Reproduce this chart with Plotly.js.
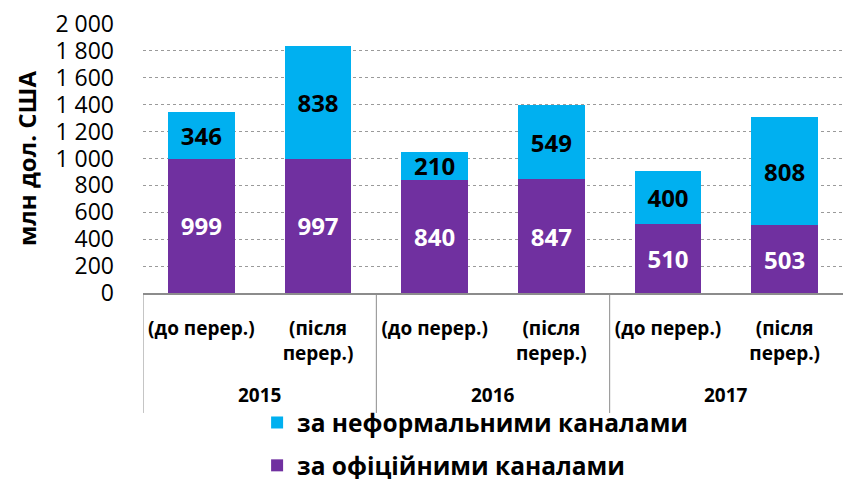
<!DOCTYPE html>
<html>
<head>
<meta charset="utf-8">
<script src="https://cdn.plot.ly/plotly-3.0.1.min.js"></script>
<style>html,body{margin:0;padding:0;background:#fff;}#chart{width:843px;height:479px;}</style>
</head>
<body>
<div id="chart"></div>
<script>
const categories = ["(до перер.)", "(після<br>перер.)", "(до перер.)", "(після<br>перер.)", "(до перер.)", "(після<br>перер.)"];
const years = ["2015", "2016", "2017"];
const officialValues = [999, 997, 840, 847, 510, 503];
const informalValues = [346, 838, 210, 549, 400, 808];
const seriesNames = ["за офіційними каналами", "за неформальними каналами"];
const yTickVals = [0, 200, 400, 600, 800, 1000, 1200, 1400, 1600, 1800, 2000];
const yTickText = ["0", "200", "400", "600", "800", "1 000", "1 200", "1 400", "1 600", "1 800", "2 000"];

const FONT = "'Open Sans', 'Noto Sans', sans-serif";
const xIdx = categories.map((c, i) => i);

const traces = [
  {
    type: "bar", name: seriesNames[0], x: xIdx, y: officialValues,
    marker: {color: "#7030A0"}, legendgroup: "a", legendrank: 2,
    text: officialValues.map(String), textposition: "inside", insidetextanchor: "middle",
    constraintext: "none", cliponaxis: false,
    textfont: {family: FONT, size: 24, color: "#ffffff", weight: 700},
    hoverinfo: "skip"
  },
  {
    type: "bar", name: seriesNames[1], x: xIdx, y: informalValues,
    marker: {color: "#00B0F0"}, legendgroup: "b", legendrank: 1,
    text: informalValues.map(String), textposition: "inside", insidetextanchor: "middle",
    constraintext: "none", cliponaxis: false,
    textfont: {family: FONT, size: 24, color: "#000000", weight: 700},
    hoverinfo: "skip"
  }
];

const axisBottomY = -0.446;
const shapes = [-0.5, 1.5, 3.5].map(v => ({
  type: "line", xref: "x", yref: "paper", x0: v, x1: v, y0: 0, y1: axisBottomY,
  line: {color: "#8c8c8c", width: 1}
}));

const annotations = years.map((yr, i) => ({
  xref: "x", yref: "paper", x: i * 2 + 0.5, y: -0.379, yanchor: "middle",
  text: "<b>" + yr + "</b>", showarrow: false,
  font: {family: FONT, size: 19, color: "#000"}
}));

const layout = {
  width: 843, height: 479,
  margin: {l: 143, r: 0, t: 24, b: 186, autoexpand: false},
  paper_bgcolor: "#fff", plot_bgcolor: "#fff",
  barmode: "stack", bargap: 0.43,
  showlegend: true,
  legend: {
    x: 0.163, y: -0.398, xanchor: "left", yanchor: "top",
    traceorder: "grouped", tracegroupgap: 8,
    font: {family: FONT, size: 24.5, color: "#000", weight: 700},
    itemwidth: 30, bgcolor: "rgba(0,0,0,0)"
  },
  xaxis: {
    type: "linear", range: [-0.5, 5.5],
    tickvals: xIdx, ticktext: categories.map(c => "<b>" + c + "</b>"),
    tickfont: {family: FONT, size: 19, color: "#000"},
    ticks: "", ticklabelstandoff: 18,
    showgrid: false, zeroline: false,
    showline: true, linecolor: "#8c8c8c", linewidth: 1.5,
    fixedrange: true
  },
  yaxis: {
    range: [0, 2000], tickvals: yTickVals, ticktext: yTickText,
    tickfont: {family: FONT, size: 23, color: "#000"},
    ticks: "", ticklabelstandoff: 28,
    showgrid: true, gridcolor: "#9a9a9a", griddash: "dot", gridwidth: 1,
    zeroline: false, showline: false,
    title: {text: "<b>млн дол. США</b>", font: {family: FONT, size: 24, color: "#000"}, standoff: 12},
    automargin: false, fixedrange: true
  },
  shapes: shapes,
  annotations: annotations
};

Plotly.newPlot("chart", traces, layout, {displayModeBar: false, staticPlot: true});
</script>
</body>
</html>
